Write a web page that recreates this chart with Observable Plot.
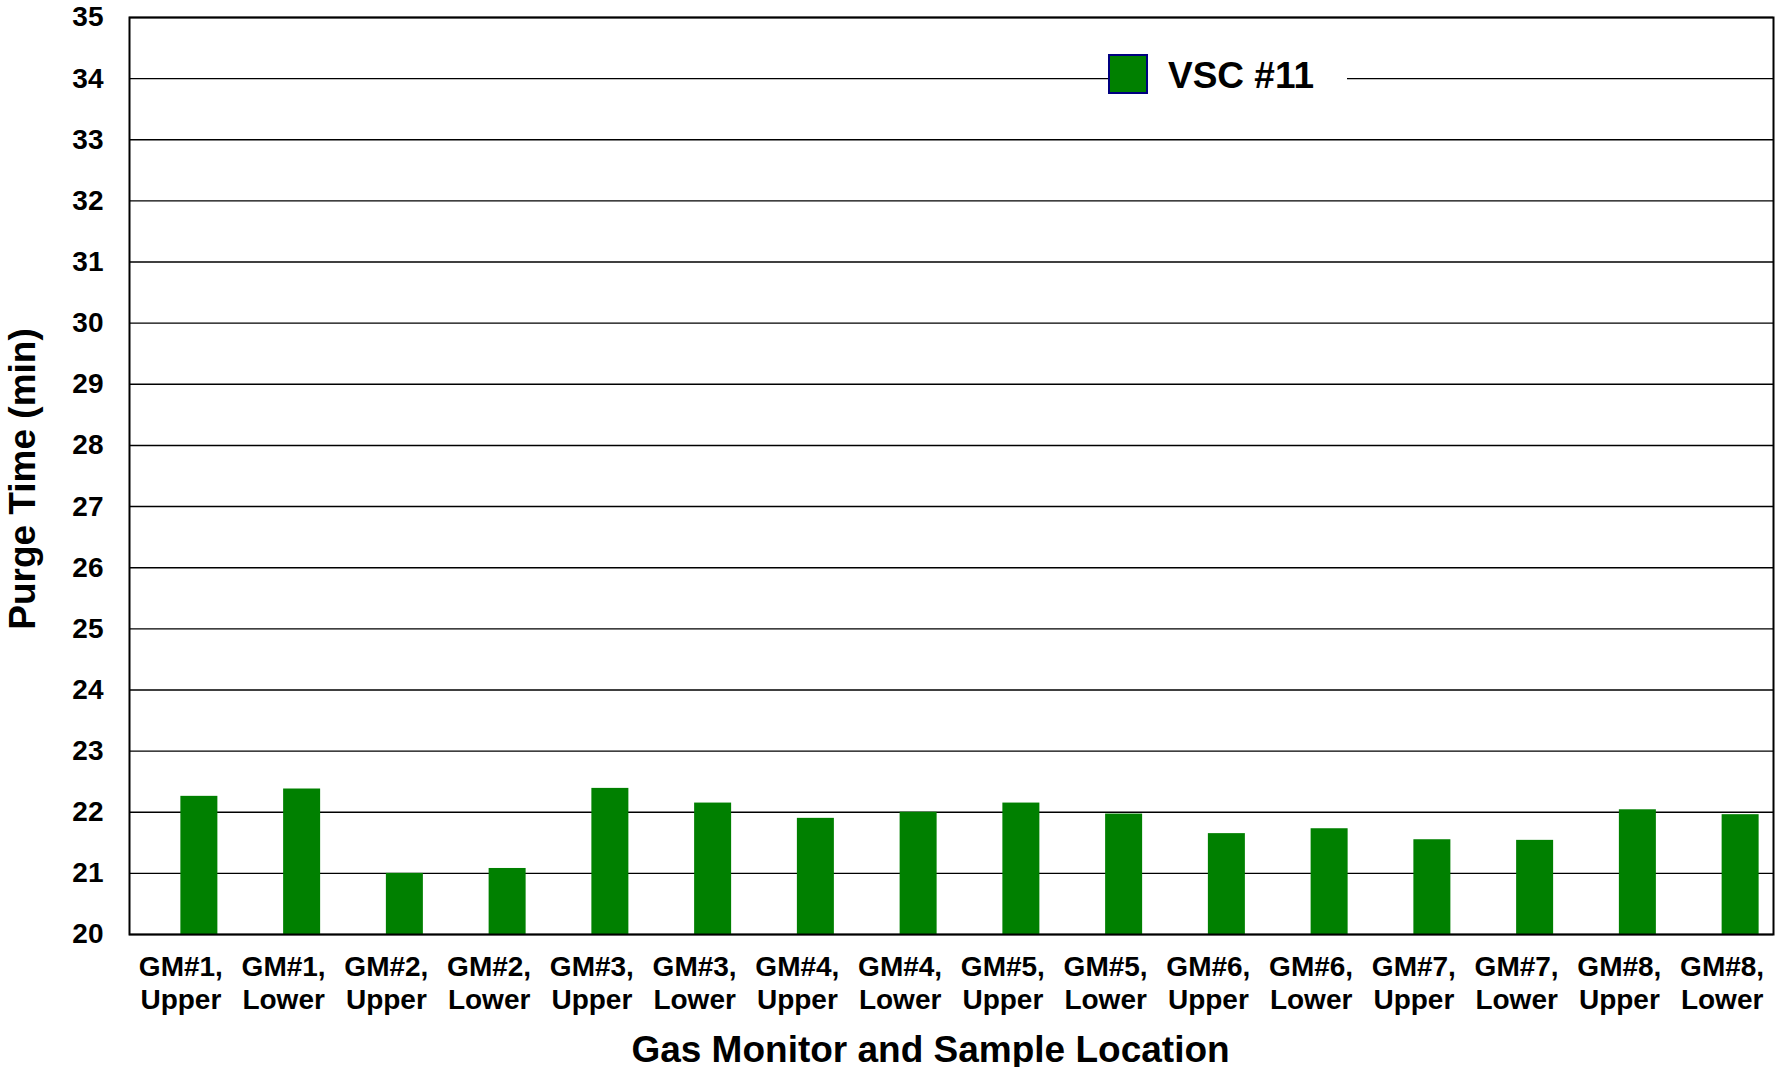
<!DOCTYPE html>
<html>
<head>
<meta charset="utf-8">
<script src="https://cdn.jsdelivr.net/npm/d3@7"></script>
<script src="https://cdn.jsdelivr.net/npm/@observablehq/plot@0.6"></script>
<style>
  body { margin: 0; background: #fff; }
  #chart { position: relative; width: 1775px; height: 1067px; font-family: "Liberation Sans", Arial, sans-serif; }
  #chart svg { position: absolute; left: 0; top: 0; }
  .legend {
    position: absolute; left: 1108px; top: 54px; width: 239px; height: 40px;
    background: #fff; display: flex; align-items: center;
    font: bold 37px "Liberation Sans", Arial, sans-serif; color: #000;
  }
  .legend .swatch { width: 36px; height: 36px; background: #008000; border: 2px solid #000080; margin-right: 20px; }
  .legend span { position: relative; top: 2px; }
</style>
</head>
<body>
<div id="chart"></div>
<script>
// Purge time per gas monitor and sample location
const monitors = ["GM#1", "GM#1", "GM#2", "GM#2", "GM#3", "GM#3", "GM#4", "GM#4",
                  "GM#5", "GM#5", "GM#6", "GM#6", "GM#7", "GM#7", "GM#8", "GM#8"];
const locations = ["Upper", "Lower", "Upper", "Lower", "Upper", "Lower", "Upper", "Lower",
                   "Upper", "Lower", "Upper", "Lower", "Upper", "Lower", "Upper", "Lower"];
const purgeTimes = [22.26, 22.38, 21.0, 21.08, 22.39, 22.15, 21.90, 22.0,
                    22.15, 21.97, 21.65, 21.73, 21.55, 21.54, 22.04, 21.96];
const yTicks = [20, 21, 22, 23, 24, 25, 26, 27, 28, 29, 30, 31, 32, 33, 34, 35];
const seriesName = "VSC #11";
const xTitle = "Gas Monitor and Sample Location";
const yTitle = "Purge Time (min)";

const categories = monitors.map((m, i) => `${m},\n${locations[i]}`);
const rows = categories.map((c, i) => ({category: c, value: purgeTimes[i]}));

const W = 1775, H = 1067;
const margin = {left: 129, right: 2, top: 17, bottom: 133};
const step = (W - margin.left - margin.right) / categories.length;
const barWidth = 37;

const plot = Plot.plot({
  width: W,
  height: H,
  marginLeft: margin.left,
  marginRight: margin.right,
  marginTop: margin.top,
  marginBottom: margin.bottom,
  style: {fontFamily: "'Liberation Sans', Arial, sans-serif", color: "#000", background: "transparent", overflow: "visible"},
  x: {type: "band", domain: categories, padding: 0, round: false},
  y: {domain: [yTicks[0], yTicks[yTicks.length - 1]]},
  marks: [
    Plot.ruleY(yTicks, {stroke: "#000", strokeWidth: 1.4}),
    Plot.barY(rows, {
      x: "category",
      y1: () => yTicks[0],
      y2: "value",
      fill: "#008000",
      insetLeft: step / 2,
      insetRight: step / 2 - barWidth
    }),
    Plot.frame({stroke: "#000", strokeWidth: 2}),
    Plot.axisY({ticks: yTicks, tickSize: 0, tickPadding: 26, fontSize: 28, fontWeight: "bold", label: null, tickFormat: d => String(d)}),
    Plot.axisX({tickSize: 0, tickPadding: 17, fontSize: 28, fontWeight: "bold", lineHeight: 1.21, label: null}),
    Plot.text([xTitle], {frameAnchor: "bottom", lineAnchor: "middle", textAnchor: "middle", dy: 116, dx: -21, fontSize: 37, fontWeight: "bold", fill: "#000"}),
    Plot.text([yTitle], {frameAnchor: "left", lineAnchor: "middle", textAnchor: "middle", rotate: -90, dx: -106, dy: 3, fontSize: 37, fontWeight: "bold", fill: "#000"})
  ]
});

const chart = document.getElementById("chart");
chart.appendChild(plot);

const legend = document.createElement("div");
legend.className = "legend";
legend.innerHTML = `<div class="swatch"></div><span>${seriesName}</span>`;
chart.appendChild(legend);
</script>
</body>
</html>
